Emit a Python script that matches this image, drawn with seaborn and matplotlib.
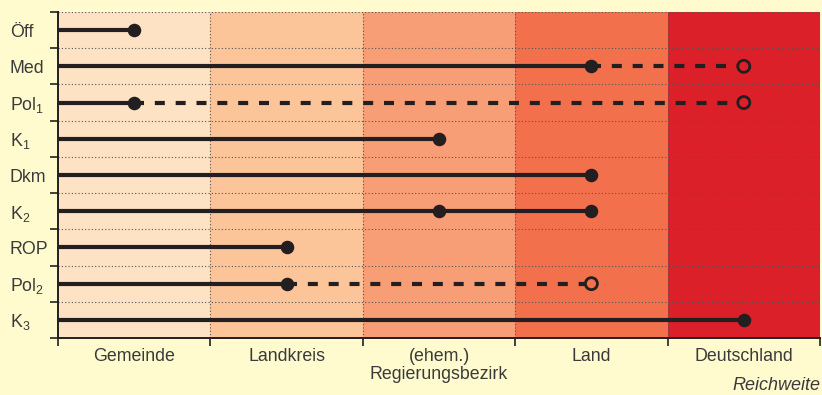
import numpy as np
import pandas as pd
import matplotlib
matplotlib.use("Agg")
import matplotlib.pyplot as plt
import seaborn as sns

# rows (top to bottom) and reach levels
rows = ["Öff", "Med", "Pol$_1$", "K$_1$", "Dkm", "K$_2$", "ROP", "Pol$_2$", "K$_3$"]
levels = ["Gemeinde", "Landkreis", "(ehem.)\nRegierungsbezirk", "Land", "Deutschland"]
band_colors = ["#FDE2C4", "#FCC599", "#F89E76", "#F3704D", "#DC2029"]

# reach per row: end of solid line, end of dashed line (None = no dashed part)
solid_end = [0, 3, 0, 2, 3, 3, 1, 1, 4]
dashed_end = [None, 4, 4, None, None, None, None, 3, None]
# filled points (row index, level index)
filled_rows = [0, 1, 2, 3, 4, 5, 5, 6, 7, 8]
filled_lvls = [0, 3, 0, 2, 3, 2, 3, 1, 1, 4]
# open points
open_rows = [1, 2, 7]
open_lvls = [4, 4, 3]

ink = "#231F20"
txt = "#3A3A3A"

sns.set_style("white")
plt.rcParams["font.family"] = ["Liberation Sans", "DejaVu Sans"]
plt.rcParams["mathtext.fontset"] = "custom"
plt.rcParams["mathtext.rm"] = "Liberation Sans"
plt.rcParams["mathtext.it"] = "Liberation Sans:italic"

fig = plt.figure(figsize=(8.22, 3.95), dpi=100, facecolor="#FFFBCF")
ax = fig.add_axes([58 / 822, 1 - 338 / 395, 762 / 822, 326 / 395])
ax.set_facecolor("none")

n = len(rows)
# background bands for the reach levels
for i, c in enumerate(band_colors):
    ax.axvspan(i, i + 1, color=c, lw=0, zorder=0)

# dotted grid
for y in np.arange(-0.5, n - 0.5):
    ax.axhline(y, color="#555555", lw=0.8, ls=(0, (1, 2)), zorder=1)
for x in range(1, len(levels)):
    ax.axvline(x, color="#555555", lw=0.8, ls=(0, (1, 2)), zorder=1)

# lines
for i in range(n):
    xe = solid_end[i] + 0.5
    ax.plot([0, xe], [i, i], color=ink, lw=3, solid_capstyle="butt", zorder=2)
    if dashed_end[i] is not None:
        ax.plot([xe, dashed_end[i] + 0.5], [i, i], color=ink, lw=3,
                ls=(0, (2.4, 2.6)), zorder=2)

df_f = pd.DataFrame({"x": np.array(filled_lvls) + 0.5, "y": filled_rows})
df_o = pd.DataFrame({"x": np.array(open_lvls) + 0.5, "y": open_rows})
sns.scatterplot(data=df_f, x="x", y="y", ax=ax, s=95, color=ink,
                edgecolor=ink, linewidth=0, zorder=3)
sns.scatterplot(data=df_o, x="x", y="y", ax=ax, s=75,
                facecolor=[band_colors[l] for l in open_lvls],
                edgecolor=ink, linewidth=2, zorder=3)

ax.set_xlim(0, len(levels))
ax.set_ylim(n - 0.5, -0.5)
ax.set_xlabel("")
ax.set_ylabel("")

# tick marks at boundaries, labels at centres
ax.set_xticks(range(len(levels) + 1))
ax.set_xticklabels([])
ax.set_xticks(np.arange(len(levels)) + 0.5, minor=True)
ax.set_xticklabels(levels, minor=True, fontsize=12.8, color=txt, linespacing=1.1)
ax.set_yticks(np.arange(-0.5, n))
ax.set_yticklabels([])
ax.set_yticks(range(n), minor=True)
ax.set_yticklabels(rows, minor=True, fontsize=12.8, color=txt)

ax.tick_params(which="major", direction="out", length=6, width=1.2, color=ink,
               left=True, bottom=True)
ax.tick_params(axis="x", which="minor", length=0, pad=7)
ax.tick_params(axis="y", which="minor", length=0, pad=3)
for lab in ax.get_yticklabels(minor=True):
    lab.set_horizontalalignment("left")
    lab.set_x(-44 / 762)

for side in ["top", "right"]:
    ax.spines[side].set_visible(False)
for side in ["left", "bottom"]:
    ax.spines[side].set_color(ink)
    ax.spines[side].set_linewidth(1.4)
    ax.spines[side].set_zorder(4)

fig.text(820 / 822, 1 - 385 / 395, "Reichweite", ha="right", va="center",
         fontsize=13, style="italic", color=txt)

fig.savefig("out.png", dpi=100, facecolor=fig.get_facecolor())
